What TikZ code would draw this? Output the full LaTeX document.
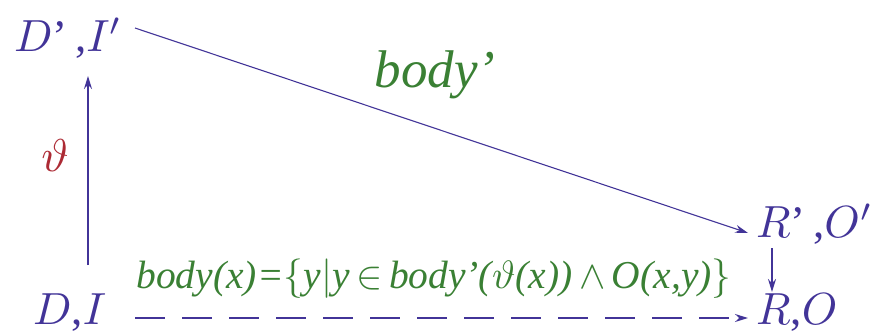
\documentclass[tikz,border=0pt]{standalone}
\usepackage{fontspec}
\setmainfont{Liberation Serif}
\usetikzlibrary{arrows.meta}
\definecolor{dblue}{RGB}{66,52,152}
\definecolor{dgreen}{RGB}{58,128,52}
\definecolor{dred}{RGB}{172,42,52}
\newcommand{\bigtxt}[2]{\scalebox{#1}{#2}}
\tikzset{
  obj/.style={text=dblue,font=\fontsize{10}{12}\selectfont,inner sep=0pt},
  lab/.style={text=dgreen,font=\fontsize{10}{12}\selectfont\itshape,inner sep=0pt},
  arr/.style={draw=dblue,line width=1.7pt,-{Stealth[length=13pt,width=8pt]}}
}
\begin{document}
\begin{tikzpicture}[x=1pt,y=-1pt]
\useasboundingbox (0,0) rectangle (870,334);
\node[obj,anchor=west] (DpIp) at (14,38) {\bigtxt{4.5}{$D$’\,,$I'$}};
\node[obj,anchor=west] (RpOp) at (756,224) {\bigtxt{4.5}{$R$’\,,$O'$}};
\node[obj,anchor=west] (RO) at (756,313) {\bigtxt{4.5}{$R$,$O$}};
\node[obj,anchor=west] (DI) at (33,313) {\bigtxt{4.5}{$D$,$I$}};
\coordinate (a1) at (88,265);
\coordinate (a2) at (88,76);
\draw[arr] (a1) -- (a2);
\node[text=dred,inner sep=0pt] (theta) at (55,156) {\bigtxt{4.6}{$\vartheta$}};
\coordinate (d1) at (135,28);
\coordinate (d2) at (748,233);
\draw[arr,line width=1.1pt] (d1) -- (d2);
\node[lab] (bodyp) at (435,75) {\bigtxt{5.3}{body’}};
\coordinate (v1) at (772,248);
\coordinate (v2) at (772,292);
\draw[arr] (v1) -- (v2);
\coordinate (h1) at (135,318);
\coordinate (h2) at (748,318);
\draw[arr,dash pattern=on 30pt off 17pt] (h1) -- (h2);
\node[lab] (def) at (434,279) {\bigtxt{3.95}{body(x)=$\{$y$|$y\,$\in$\,body’($\vartheta$(x))\,$\wedge$\,O(x,y)$\}$}};
\end{tikzpicture}
\end{document}
